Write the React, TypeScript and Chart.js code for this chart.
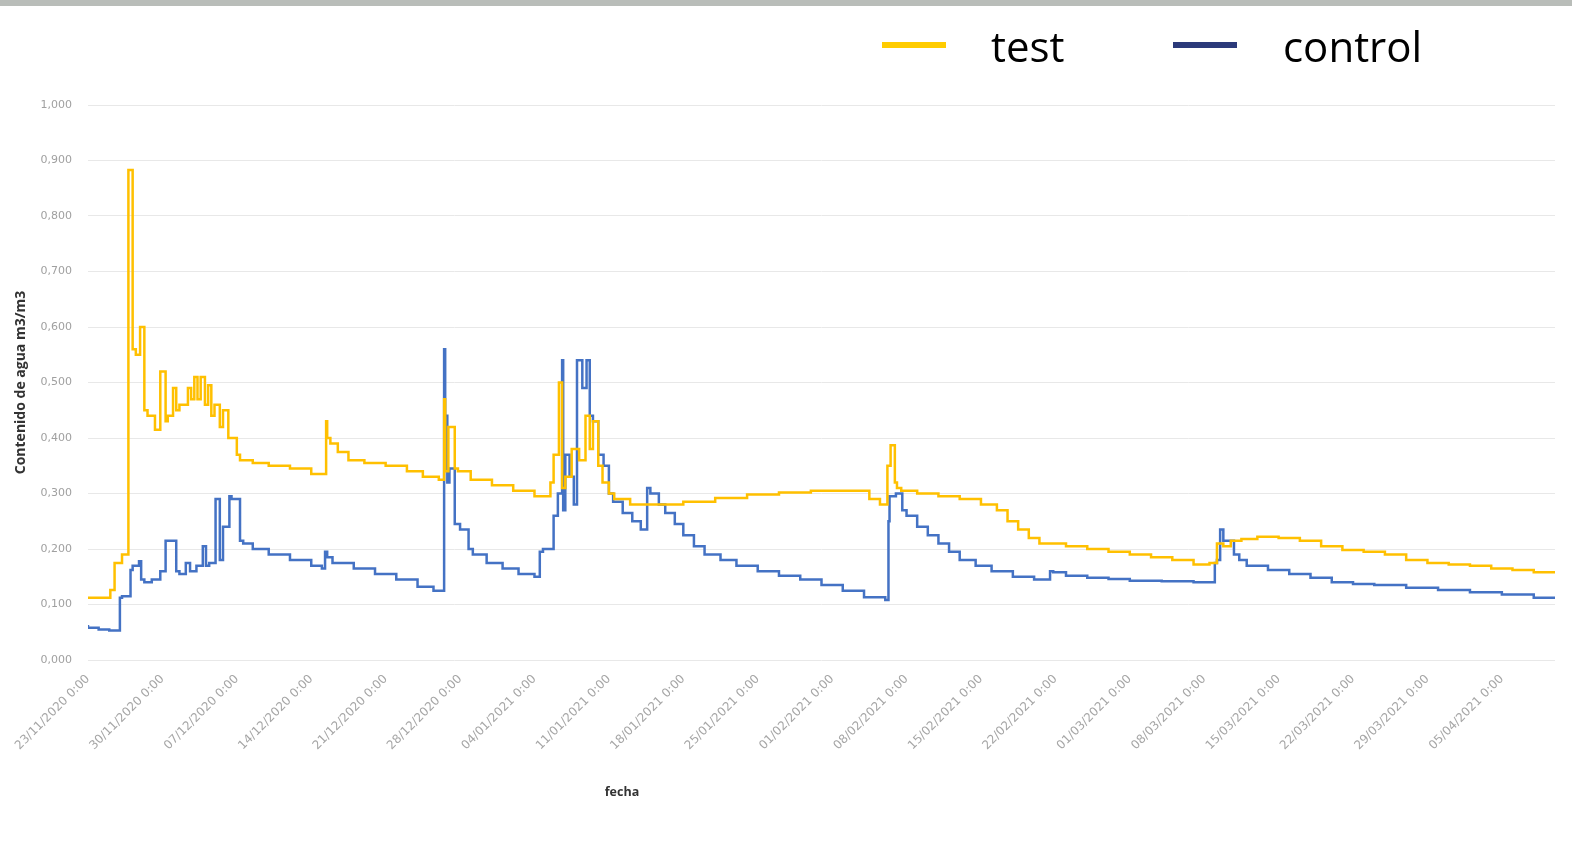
import React, { useEffect, useRef } from "react";
import { Chart, registerables } from "chart.js";

Chart.register(...registerables);

const xTickLabels = [
  "23/11/2020 0:00", "30/11/2020 0:00", "07/12/2020 0:00", "14/12/2020 0:00",
  "21/12/2020 0:00", "28/12/2020 0:00", "04/01/2021 0:00", "11/01/2021 0:00",
  "18/01/2021 0:00", "25/01/2021 0:00", "01/02/2021 0:00", "08/02/2021 0:00",
  "15/02/2021 0:00", "22/02/2021 0:00", "01/03/2021 0:00", "08/03/2021 0:00",
  "15/03/2021 0:00", "22/03/2021 0:00", "29/03/2021 0:00", "05/04/2021 0:00",
];

const yTickLabels = ["0,000", "0,100", "0,200", "0,300", "0,400", "0,500", "0,600", "0,700", "0,800", "0,900", "1,000"];

const testDays = [
  0, 2.1, 2.5, 3.2, 3.8, 4.2, 4.5, 4.9, 5.3, 5.6, 6.3, 6.8, 7.3, 7.5, 8.0, 8.3, 8.6, 9.4, 9.7, 10.0,
  10.3, 10.6, 11.0, 11.3, 11.6, 11.9, 12.4, 12.7, 13.2, 13.5, 14.0, 14.3, 15.5, 17, 19, 21, 22.4, 22.5,
  22.8, 23.5, 24.5, 26, 28, 30, 31.5, 33, 33.5, 33.6, 33.9, 34.5, 34.8, 36, 38, 40, 42, 43.5, 43.8,
  44.3, 44.6, 44.9, 45.5, 46.2, 46.8, 47.2, 47.5, 48.0, 48.4, 49.0, 49.5, 51, 53, 56, 59, 62, 65, 68,
  71, 73.5, 74.5, 75.2, 75.5, 75.9, 76.1, 76.5, 78, 80, 82, 84, 85.5, 86.5, 87.5, 88.5, 89.5, 90.5, 92,
  94, 96, 98, 100, 102, 104, 105.5, 106.2, 106.8, 107.5, 108.5, 110, 112, 114, 116, 118, 120, 122, 124,
  126, 128, 130, 132, 134, 136, 138,
];
const testValues = [
  0.112, 0.112, 0.126, 0.175, 0.19, 0.883, 0.56, 0.55, 0.6, 0.45, 0.44, 0.415, 0.52, 0.43, 0.44, 0.49, 0.45, 0.46, 0.49, 0.47,
  0.51, 0.47, 0.51, 0.46, 0.495, 0.44, 0.46, 0.42, 0.45, 0.4, 0.4, 0.37, 0.36, 0.355, 0.35, 0.345, 0.335, 0.43,
  0.4, 0.39, 0.375, 0.36, 0.355, 0.35, 0.34, 0.33, 0.325, 0.47, 0.34, 0.42, 0.345, 0.34, 0.325, 0.315, 0.305, 0.295, 0.32,
  0.37, 0.5, 0.31, 0.33, 0.38, 0.36, 0.44, 0.38, 0.43, 0.35, 0.32, 0.3, 0.29, 0.28, 0.28, 0.285, 0.292, 0.298, 0.302,
  0.305, 0.305, 0.29, 0.28, 0.35, 0.387, 0.32, 0.31, 0.305, 0.3, 0.295, 0.29, 0.28, 0.27, 0.25, 0.235, 0.22, 0.21, 0.21,
  0.205, 0.2, 0.195, 0.19, 0.185, 0.18, 0.172, 0.175, 0.21, 0.205, 0.215, 0.218, 0.222, 0.22, 0.215, 0.205, 0.198, 0.195, 0.19,
  0.18, 0.175, 0.172, 0.17, 0.165, 0.162, 0.158,
];

const controlDays = [
  0, 1, 2, 3, 3.2, 4.0, 4.2, 4.8, 5.0, 5.3, 6.0, 6.8, 7.3, 8.3, 8.6, 9.2, 9.6, 10.2, 10.8, 11.1, 11.4, 12.0,
  12.4, 12.7, 13.3, 13.5, 14.3, 14.6, 15.5, 17, 19, 21, 22, 22.3, 22.5, 23, 25, 27, 29, 31, 32.5, 33.5, 33.6,
  33.8, 34, 34.5, 35, 35.8, 36.2, 37.5, 39, 40.5, 42, 42.5, 42.8, 43.8, 44.2, 44.6, 44.7, 44.9, 45.3, 45.7, 46.0,
  46.5, 46.9, 47.2, 47.5, 48.0, 48.5, 49.0, 49.4, 50.3, 51.2, 52, 52.6, 52.9, 53.7, 54.3, 55.2, 56, 57, 58, 59.5,
  61, 63, 65, 67, 69, 71, 73, 75, 75.3, 75.4, 76.0, 76.6, 77.0, 78, 79, 80, 81, 82, 83.5, 85, 87, 89, 90.5, 90.8,
  92, 94, 96, 98, 101, 104, 106, 106.2, 106.5, 106.8, 107.3, 107.8, 108.3, 109, 111, 113, 115, 117, 119, 121, 124,
  127, 130, 133, 136, 138,
];
const controlValues = [
  0.063, 0.058, 0.055, 0.053, 0.112, 0.115, 0.162, 0.17, 0.178, 0.145, 0.14, 0.145, 0.16, 0.215, 0.16, 0.155, 0.175, 0.16, 0.17, 0.205, 0.17, 0.175,
  0.29, 0.18, 0.24, 0.295, 0.29, 0.215, 0.21, 0.2, 0.19, 0.18, 0.17, 0.165, 0.195, 0.185, 0.175, 0.165, 0.155, 0.145, 0.132, 0.125, 0.56,
  0.44, 0.32, 0.345, 0.245, 0.235, 0.2, 0.19, 0.175, 0.165, 0.155, 0.15, 0.195, 0.2, 0.26, 0.3, 0.54, 0.27, 0.37, 0.33, 0.28,
  0.54, 0.49, 0.54, 0.44, 0.43, 0.37, 0.35, 0.3, 0.285, 0.265, 0.25, 0.235, 0.31, 0.3, 0.28, 0.265, 0.245, 0.225, 0.205, 0.19,
  0.18, 0.17, 0.16, 0.152, 0.145, 0.135, 0.125, 0.113, 0.108, 0.25, 0.295, 0.3, 0.27, 0.26, 0.24, 0.225, 0.21, 0.195, 0.18, 0.17, 0.16, 0.15, 0.145, 0.16,
  0.158, 0.152, 0.148, 0.146, 0.143, 0.142, 0.14, 0.175, 0.18, 0.235, 0.215, 0.215, 0.19, 0.18, 0.17, 0.162, 0.155, 0.148, 0.14, 0.137, 0.135,
  0.13, 0.126, 0.122, 0.118, 0.112,
];

const TEST_COLOR = "#FFC000";
const CONTROL_COLOR = "#4472C4";

export default function App() {
  const canvasRef = useRef<HTMLCanvasElement | null>(null);

  useEffect(() => {
    document.body.style.margin = "0";
    const ctx = canvasRef.current!.getContext("2d")!;
    const chart = new Chart(ctx, {
      type: "line",
      data: {
        datasets: [
          {
            label: "test",
            data: testDays.map((d, i) => ({ x: d, y: testValues[i] })),
            borderColor: TEST_COLOR,
            backgroundColor: TEST_COLOR,
            borderWidth: 2.5,
            pointRadius: 0,
            stepped: "after",
          },
          {
            label: "control",
            data: controlDays.map((d, i) => ({ x: d, y: controlValues[i] })),
            borderColor: CONTROL_COLOR,
            backgroundColor: CONTROL_COLOR,
            borderWidth: 2.5,
            pointRadius: 0,
            stepped: "after",
          },
        ],
      },
      options: {
        animation: false,
        responsive: false,
        maintainAspectRatio: false,
        layout: { padding: { top: 105, right: 17, bottom: 65, left: 0 } },
        plugins: { legend: { display: false }, tooltip: { enabled: false } },
        scales: {
          x: {
            type: "linear",
            min: 0,
            max: 138,
            afterFit: (s: any) => { s.height = 140; },
            afterBuildTicks: (s: any) => {
              s.ticks = xTickLabels.map((_, i) => ({ value: i * 7 }));
            },
            grid: { display: false },
            border: { display: false },
            ticks: {
              autoSkip: false,
              minRotation: 45,
              maxRotation: 45,
              padding: 4,
              color: "#a6a6a6",
              font: { family: "'DejaVu Sans', sans-serif", size: 12 },
              callback: (v: any) => xTickLabels[Math.round(Number(v) / 7)] ?? "",
            },
            title: { display: false },
          },
          y: {
            min: 0,
            max: 1,
            afterFit: (s: any) => { s.width = 88; },
            afterBuildTicks: (s: any) => {
              s.ticks = yTickLabels.map((_, i) => ({ value: i / 10 }));
            },
            grid: { color: "#e8e8e8", lineWidth: 1, drawTicks: false },
            border: { display: false },
            ticks: {
              padding: 16,
              color: "#a0a0a0",
              font: { family: "'DejaVu Sans', sans-serif", size: 11 },
              callback: (v: any) => yTickLabels[Math.round(Number(v) * 10)] ?? "",
            },
            title: {
              display: true,
              text: "Contenido de agua m3/m3",
              color: "#333",
              font: { family: "'Open Sans', sans-serif", size: 14, weight: "bold" },
              padding: { top: 13, bottom: 0 },
            },
          },
        },
      },
    });
    return () => chart.destroy();
  }, []);

  return (
    <div style={{ position: "relative", width: 1572, height: 865, background: "#fff", overflow: "hidden" }}>
      <div style={{ position: "absolute", left: 0, top: 0, width: 1572, height: 6, background: "#b9bdb9" }} />
      <canvas ref={canvasRef} width={1572} height={865} style={{ position: "absolute", left: 0, top: 0 }} />
      <div style={{ position: "absolute", left: 582, top: 782, width: 80, textAlign: "center", fontFamily: "'Open Sans', sans-serif", fontSize: 12.5, fontWeight: "bold", lineHeight: "20px", color: "#333" }}>fecha</div>
      <div style={{ position: "absolute", left: 882, top: 42, width: 64, height: 6, background: "#FFCC00" }} />
      <div style={{ position: "absolute", left: 991, top: 18, fontFamily: "'Open Sans', sans-serif", fontSize: 42, lineHeight: "56px", color: "#000" }}>test</div>
      <div style={{ position: "absolute", left: 1173, top: 42, width: 64, height: 6, background: "#2B3A7A" }} />
      <div style={{ position: "absolute", left: 1283, top: 18, fontFamily: "'Open Sans', sans-serif", fontSize: 42, lineHeight: "56px", color: "#000" }}>control</div>
    </div>
  );
}
